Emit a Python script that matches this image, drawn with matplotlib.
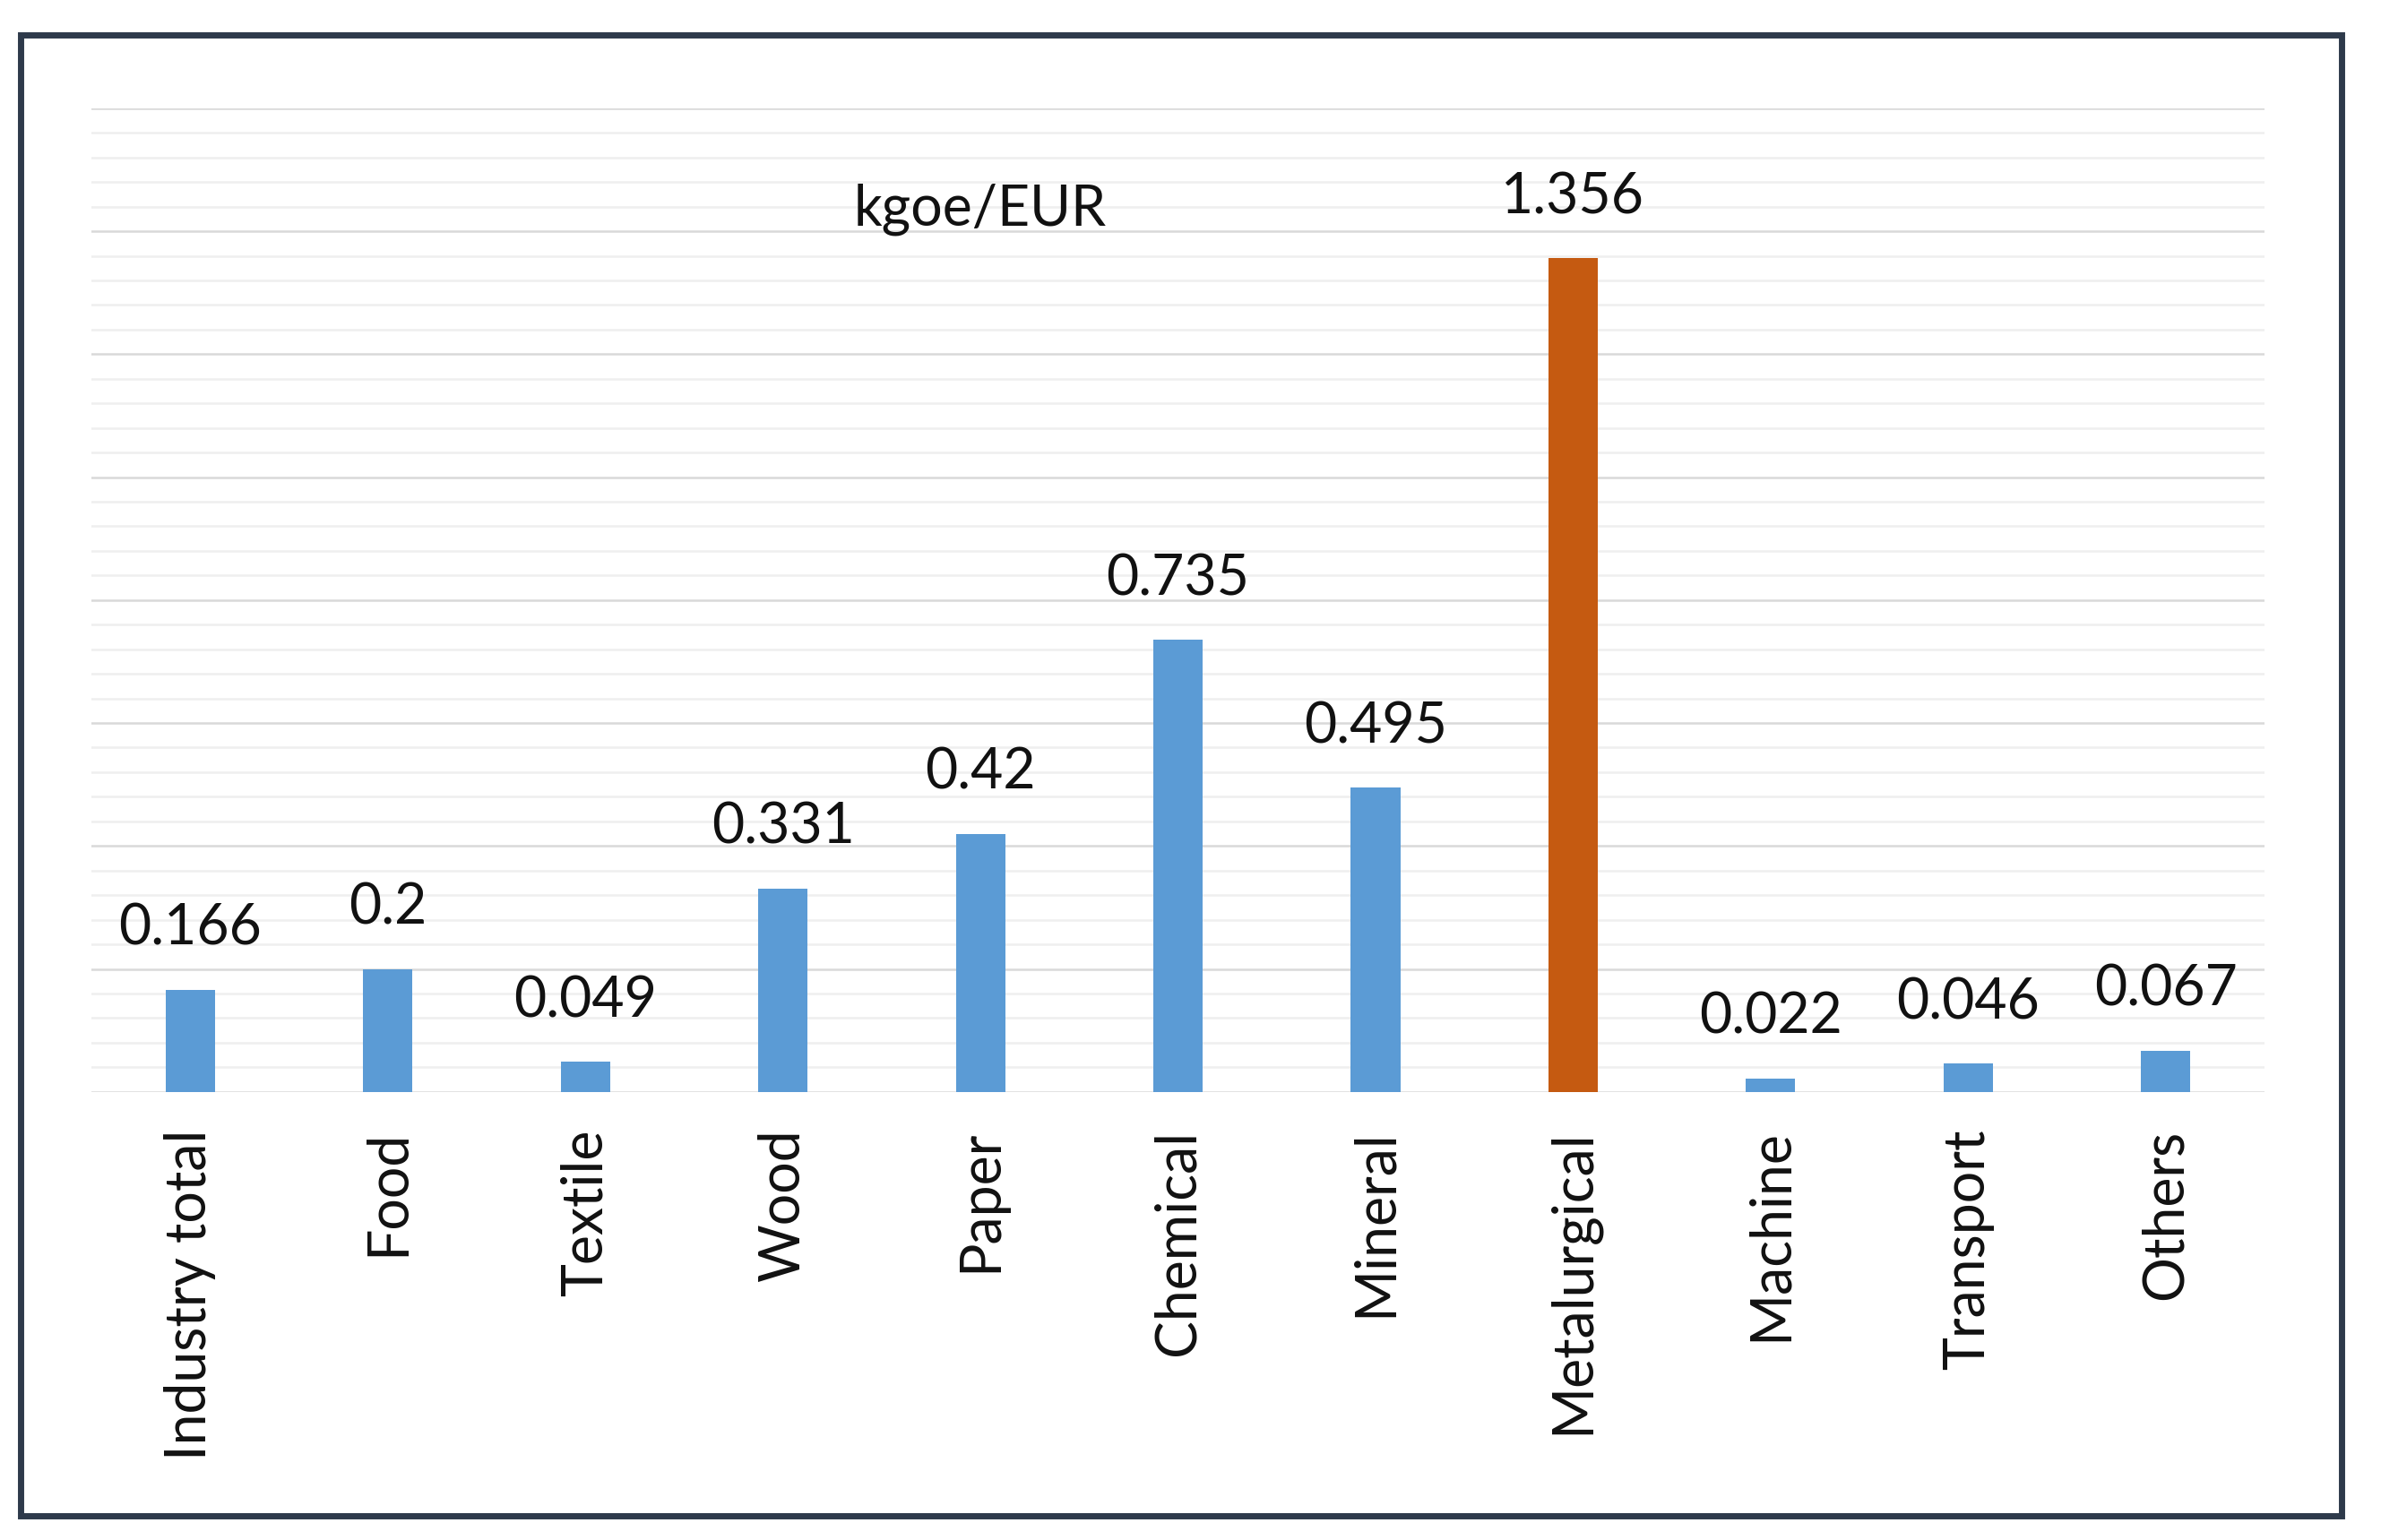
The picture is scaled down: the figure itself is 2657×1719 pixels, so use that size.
import matplotlib.pyplot as plt
from matplotlib.patches import Rectangle
from matplotlib.ticker import MultipleLocator

# data (kgoe/EUR)
sectors = ["Industry total", "Food", "Textile", "Wood", "Paper", "Chemical",
           "Mineral", "Metalurgical", "Machine", "Transport", "Others"]
values = [0.166, 0.2, 0.049, 0.331, 0.42, 0.735, 0.495, 1.356, 0.022, 0.046, 0.067]
labels = ["0.166", "0.2", "0.049", "0.331", "0.42", "0.735", "0.495", "1.356",
          "0.022", "0.046", "0.067"]
highlight = "Metalurgical"

blue = "#5B9BD5"
orange = "#C55A11"

plt.rcParams['font.family'] = ['Lato', 'DejaVu Sans']

fig = plt.figure(figsize=(26.57, 17.19), dpi=100)
ax = fig.add_axes([0.0385, 0.291, 0.9125, 0.6387])

x = range(len(sectors))
colors = [orange if s == highlight else blue for s in sectors]
bars = ax.bar(x, values, width=0.25, color=colors, zorder=3)

for b, lab in zip(bars, labels):
    ax.annotate(lab, (b.get_x() + b.get_width() / 2, b.get_height()),
                xytext=(0, 28), textcoords="offset points",
                ha="center", va="bottom", fontsize=45, color="#111111")

ax.text(4, 1.41, "kgoe/EUR", ha="center", va="baseline", fontsize=45, color="#111111")

ax.set_xlim(-0.5, len(sectors) - 0.5)
ax.set_ylim(0, 1.6)
ax.yaxis.set_major_locator(MultipleLocator(0.2))
ax.yaxis.set_minor_locator(MultipleLocator(0.04))
ax.grid(which="major", axis="y", color="#D9D9D9", lw=1.8, zorder=0)
ax.grid(which="minor", axis="y", color="#EFEFEF", lw=1.8, zorder=0)
ax.tick_params(axis="y", which="both", left=False, labelleft=False)
ax.set_xticks(list(x))
ax.set_xticklabels(sectors, rotation=90, fontsize=45, color="#111111")
ax.tick_params(axis="x", length=0, pad=30)
for s in ax.spines.values():
    s.set_visible(False)

# outer frame
fig.patches.append(Rectangle((0.0085, 0.0155), 0.9805 - 0.0055, 0.9617, transform=fig.transFigure,
                             fill=False, ec="#2E3A4B", lw=5))

fig.savefig("out.png", dpi=100)
